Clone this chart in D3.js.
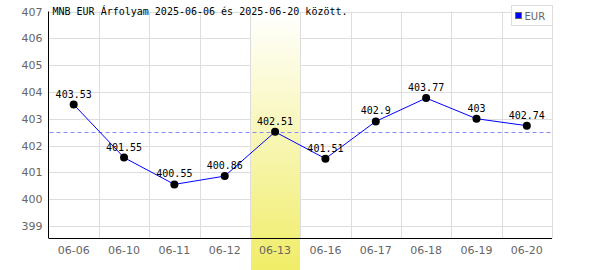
<!DOCTYPE html>
<html>
<head>
<meta charset="utf-8">
<script src="https://cdn.jsdelivr.net/npm/d3@7"></script>
<style>
  body { margin: 0; background: #fff; }
  .tick-label { font-family: "DejaVu Sans", sans-serif; font-size: 11px; fill: #666; }
  .mono { font-family: "DejaVu Sans Mono", monospace; font-size: 10px; fill: #000; }
</style>
</head>
<body>
<div id="chart"></div>
<script>
// data
const dates = ["06-06", "06-10", "06-11", "06-12", "06-13", "06-16", "06-17", "06-18", "06-19", "06-20"];
const rates = [403.53, 401.55, 400.55, 400.86, 402.51, 401.51, 402.9, 403.77, 403, 402.74];
const valueLabels = ["403.53", "401.55", "400.55", "400.86", "402.51", "401.51", "402.9", "403.77", "403", "402.74"];
const yTicks = [399, 400, 401, 402, 403, 404, 405, 406, 407];
const meanLine = [402.5];
const highlightDate = ["06-13"];
const title = "MNB EUR Árfolyam 2025-06-06 és 2025-06-20 között.";
const seriesName = ["EUR"];

const width = 600, height = 270;
const margin = { top: 11.5, right: 48, bottom: 32, left: 48.5 };

const svg = d3.select("#chart").append("svg")
  .attr("width", width)
  .attr("height", height);

const x = d3.scaleBand()
  .domain(dates)
  .range([margin.left, width - margin.right]);

const y = d3.scaleLinear()
  .domain([398.55, 407])
  .range([height - margin.bottom, margin.top]);

// highlight gradient
const grad = svg.append("defs").append("linearGradient")
  .attr("id", "hl").attr("x1", 0).attr("y1", 0).attr("x2", 0).attr("y2", 1);
grad.append("stop").attr("offset", "0%").attr("stop-color", "#ffffff");
grad.append("stop").attr("offset", "100%").attr("stop-color", "#f0ed68");

// grid
svg.append("g").selectAll("line")
  .data(yTicks)
  .join("line")
  .attr("x1", margin.left).attr("x2", width - margin.right)
  .attr("y1", d => Math.round(y(d)) + 0.5).attr("y2", d => Math.round(y(d)) + 0.5)
  .attr("stroke", "#dddddd");

svg.append("g").selectAll("line")
  .data(dates.slice(1).concat(["end"]))
  .join("line")
  .attr("x1", (d, i) => Math.round(x(dates[0]) + x.bandwidth() * (i + 1)) + 0.5)
  .attr("x2", (d, i) => Math.round(x(dates[0]) + x.bandwidth() * (i + 1)) + 0.5)
  .attr("y1", margin.top).attr("y2", height - margin.bottom)
  .attr("stroke", "#dddddd");

// highlighted day band
svg.append("g").selectAll("rect")
  .data(highlightDate)
  .join("rect")
  .attr("x", d => Math.round(x(d)) + 1)
  .attr("width", Math.round(x.bandwidth()) - 1)
  .attr("y", margin.top)
  .attr("height", height - margin.top)
  .attr("fill", "url(#hl)");

// axes lines
svg.append("line")
  .attr("x1", margin.left).attr("x2", margin.left)
  .attr("y1", margin.top).attr("y2", height - margin.bottom)
  .attr("stroke", "#000");
svg.append("line")
  .attr("x1", margin.left).attr("x2", width - margin.right)
  .attr("y1", height - margin.bottom + 0.5).attr("y2", height - margin.bottom + 0.5)
  .attr("stroke", "#000");

// y tick labels
svg.append("g").selectAll("text")
  .data(yTicks)
  .join("text")
  .attr("class", "tick-label")
  .attr("x", margin.left - 6)
  .attr("y", d => y(d) + 4)
  .attr("text-anchor", "end")
  .text(d => d);

// x tick labels
svg.append("g").selectAll("text")
  .data(dates)
  .join("text")
  .attr("class", "tick-label")
  .attr("x", d => x(d) + x.bandwidth() / 2)
  .attr("y", height - margin.bottom + 16)
  .attr("text-anchor", "middle")
  .text(d => d);

// mean dashed line
svg.append("g").selectAll("line")
  .data(meanLine)
  .join("line")
  .attr("x1", margin.left + 1).attr("x2", width - margin.right)
  .attr("y1", d => Math.round(y(d)) + 0.5).attr("y2", d => Math.round(y(d)) + 0.5)
  .attr("stroke", "#8888ff")
  .attr("stroke-dasharray", "4,3");

// series line
const pts = dates.map((d, i) => ({ date: d, value: rates[i], label: valueLabels[i] }));
svg.append("path")
  .datum(pts)
  .attr("fill", "none")
  .attr("stroke", "#0000ff")
  .attr("stroke-width", 1)
  .attr("d", d3.line()
    .x(d => x(d.date) + x.bandwidth() / 2)
    .y(d => y(d.value)));

svg.append("g").selectAll("circle")
  .data(pts)
  .join("circle")
  .attr("cx", d => x(d.date) + x.bandwidth() / 2)
  .attr("cy", d => y(d.value))
  .attr("r", 4)
  .attr("fill", "#000");

svg.append("g").selectAll("text")
  .data(pts)
  .join("text")
  .attr("class", "mono")
  .attr("x", d => x(d.date) + x.bandwidth() / 2)
  .attr("y", d => y(d.value) - 7)
  .attr("text-anchor", "middle")
  .text(d => d.label);

// title
svg.append("text")
  .attr("class", "mono")
  .attr("x", margin.left + 4)
  .attr("y", 15)
  .text(title);

// legend
const legend = svg.append("g").attr("transform", "translate(511.5,5.5)");
legend.append("rect")
  .attr("width", 41).attr("height", 20)
  .attr("fill", "#fff").attr("stroke", "#dddddd");
legend.append("rect")
  .attr("x", 4).attr("y", 7).attr("width", 6).attr("height", 6)
  .attr("fill", "#0000ff").attr("stroke", "#666");
legend.append("text")
  .attr("class", "tick-label")
  .attr("x", 13).attr("y", 14)
  .style("font-size", "10px")
  .text(seriesName[0]);
</script>
</body>
</html>
